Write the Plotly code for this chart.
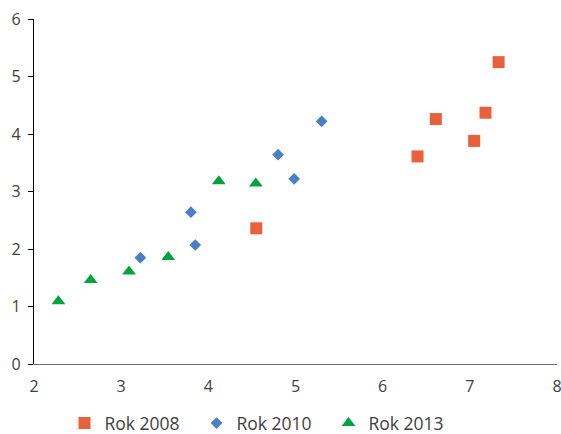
import plotly.graph_objects as go

# Series values (x, y) for each year
x_2008 = [4.55, 6.40, 6.61, 7.05, 7.18, 7.33]
y_2008 = [2.36, 3.61, 4.26, 3.88, 4.37, 5.25]

x_2010 = [3.22, 3.80, 3.85, 4.80, 4.985, 5.30]
y_2010 = [1.85, 2.64, 2.07, 3.64, 3.22, 4.22]

x_2013 = [2.28, 2.65, 3.09, 3.54, 4.12, 4.545]
y_2013 = [1.09, 1.46, 1.61, 1.86, 3.18, 3.14]

series_names = ["Rok 2008", "Rok 2010", "Rok 2013"]
x_ticks = [2, 3, 4, 5, 6, 7, 8]
y_ticks = [0, 1, 2, 3, 4, 5, 6]

fig = go.Figure()
fig.add_trace(go.Scatter(
    x=x_2008, y=y_2008, mode="markers", name=series_names[0],
    marker=dict(symbol="square", size=12, color="#E8603C"),
))
fig.add_trace(go.Scatter(
    x=x_2010, y=y_2010, mode="markers", name=series_names[1],
    marker=dict(symbol="diamond", size=9, color="#4A7EC7"),
))
fig.add_trace(go.Scatter(
    x=x_2013, y=y_2013, mode="markers", name=series_names[2],
    marker=dict(symbol="triangle-up", size=12, color="#00A33C"),
))

font_family = "Open Sans, Noto Sans, sans-serif"
fig.update_layout(
    width=561, height=434,
    margin=dict(l=34, r=4, t=19, b=70, autoexpand=False),
    paper_bgcolor="white", plot_bgcolor="white",
    font=dict(family=font_family, size=16, color="#404040"),
    showlegend=True,
    legend=dict(
        orientation="h", xref="container", yref="container",
        x=0.115, xanchor="left", y=0.025, yanchor="middle",
        entrywidth=87, entrywidthmode="pixels",
        font=dict(family=font_family, size=17.5, color="#404040"),
    ),
    xaxis=dict(
        range=[2, 8], tickvals=x_ticks, showgrid=False, zeroline=False,
        showline=True, linecolor="#6e6e6e", linewidth=1.3,
        ticks="", ticklabelstandoff=8, automargin=False,
        ticklabeloverflow="allow",
    ),
    yaxis=dict(
        range=[0, 6], tickvals=y_ticks, showgrid=False, zeroline=False,
        showline=True, linecolor="#000000", linewidth=1.3,
        ticks="outside", ticklen=5, tickcolor="#000000", tickwidth=1,
        ticklabelstandoff=4, automargin=False,
    ),
)

fig.write_html("out.html")
